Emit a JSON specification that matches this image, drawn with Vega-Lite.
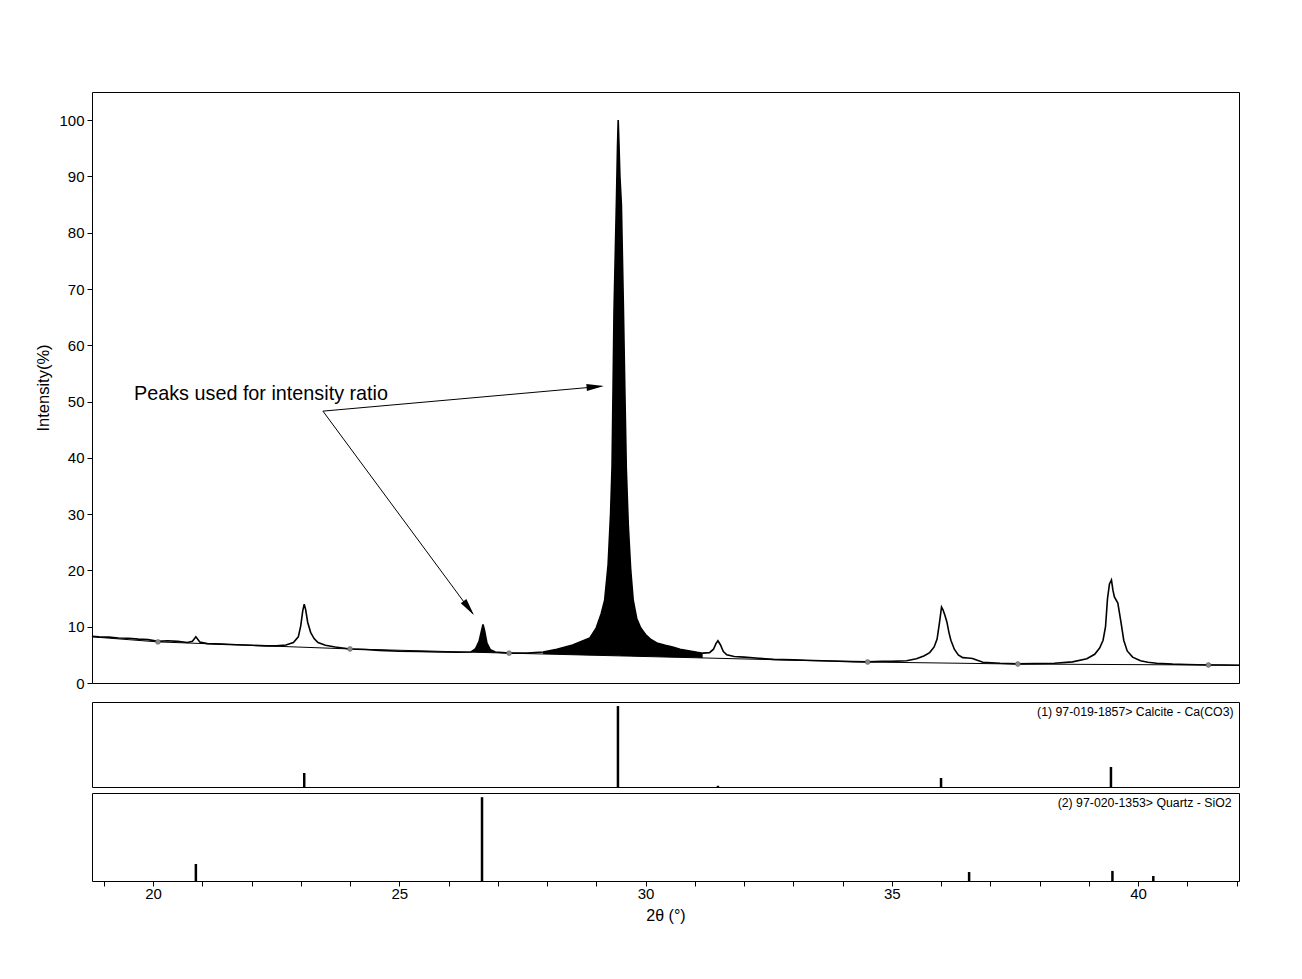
{
  "$schema": "https://vega.github.io/schema/vega-lite/v6.json",
  "padding": {"left": 35, "top": 91, "right": 5, "bottom": 5},
  "background": "white",
  "config": {
    "font": "Liberation Sans",
    "view": {"stroke": "black", "strokeWidth": 1},
    "axis": {"grid": false, "labelFont": "Liberation Sans", "titleFont": "Liberation Sans", "labelColor": "black", "titleColor": "black", "tickColor": "black", "domainColor": "black", "labelFontSize": 15, "titleFontSize": 15, "titleFontWeight": "normal", "tickSize": 5}
  },
  "datasets": {
    "curve": [
      {"x": 18.76, "y": 8.3}, {"x": 18.9, "y": 8.2}, {"x": 19.1, "y": 8.15}, {"x": 19.3, "y": 8.0}, {"x": 19.5, "y": 7.95}, {"x": 19.7, "y": 7.8}, {"x": 19.9, "y": 7.7},
      {"x": 20.1, "y": 7.4}, {"x": 20.3, "y": 7.5}, {"x": 20.5, "y": 7.4}, {"x": 20.7, "y": 7.2}, {"x": 20.8, "y": 7.4}, {"x": 20.87, "y": 8.2}, {"x": 20.95, "y": 7.3},
      {"x": 21.1, "y": 7.0}, {"x": 21.4, "y": 6.9}, {"x": 21.7, "y": 6.8}, {"x": 22.0, "y": 6.7}, {"x": 22.3, "y": 6.6}, {"x": 22.5, "y": 6.6}, {"x": 22.7, "y": 6.75},
      {"x": 22.85, "y": 7.2}, {"x": 22.95, "y": 8.2}, {"x": 23.0, "y": 10.2}, {"x": 23.04, "y": 12.8}, {"x": 23.07, "y": 14.0}, {"x": 23.1, "y": 13.0}, {"x": 23.14, "y": 10.8},
      {"x": 23.2, "y": 9.0}, {"x": 23.27, "y": 7.9}, {"x": 23.35, "y": 7.2}, {"x": 23.5, "y": 6.7}, {"x": 23.7, "y": 6.4}, {"x": 24.0, "y": 6.05}, {"x": 24.3, "y": 5.95},
      {"x": 24.6, "y": 5.8}, {"x": 25.0, "y": 5.65}, {"x": 25.4, "y": 5.6}, {"x": 25.8, "y": 5.5}, {"x": 26.2, "y": 5.45},
      {"x": 26.45, "y": 5.5}, {"x": 26.55, "y": 6.1}, {"x": 26.62, "y": 7.4}, {"x": 26.67, "y": 9.3}, {"x": 26.7, "y": 10.4}, {"x": 26.73, "y": 9.4}, {"x": 26.78, "y": 7.1}, {"x": 26.85, "y": 5.9}, {"x": 26.95, "y": 5.5},
      {"x": 27.23, "y": 5.3}, {"x": 27.6, "y": 5.3}, {"x": 27.92, "y": 5.5}, {"x": 28.2, "y": 6.0}, {"x": 28.52, "y": 6.75}, {"x": 28.87, "y": 8.0}, {"x": 29.0, "y": 9.8},
      {"x": 29.1, "y": 12.3}, {"x": 29.17, "y": 14.7}, {"x": 29.24, "y": 21}, {"x": 29.29, "y": 30}, {"x": 29.32, "y": 38.4}, {"x": 29.34, "y": 52}, {"x": 29.36, "y": 66},
      {"x": 29.39, "y": 78}, {"x": 29.41, "y": 86}, {"x": 29.43, "y": 95}, {"x": 29.445, "y": 100}, {"x": 29.46, "y": 96}, {"x": 29.48, "y": 90}, {"x": 29.51, "y": 85},
      {"x": 29.53, "y": 76}, {"x": 29.55, "y": 67}, {"x": 29.58, "y": 52}, {"x": 29.61, "y": 38}, {"x": 29.65, "y": 28}, {"x": 29.7, "y": 20}, {"x": 29.75, "y": 14.7},
      {"x": 29.82, "y": 11.5}, {"x": 29.9, "y": 9.8}, {"x": 30.0, "y": 8.6}, {"x": 30.1, "y": 7.8}, {"x": 30.23, "y": 7.1}, {"x": 30.4, "y": 6.7}, {"x": 30.55, "y": 6.4},
      {"x": 30.7, "y": 6.0}, {"x": 30.9, "y": 5.7}, {"x": 31.05, "y": 5.45}, {"x": 31.16, "y": 5.3}, {"x": 31.3, "y": 5.4}, {"x": 31.38, "y": 6.0}, {"x": 31.43, "y": 7.0},
      {"x": 31.47, "y": 7.5}, {"x": 31.52, "y": 6.8}, {"x": 31.58, "y": 5.6}, {"x": 31.65, "y": 5.0}, {"x": 31.8, "y": 4.7}, {"x": 32.0, "y": 4.6}, {"x": 32.3, "y": 4.4},
      {"x": 32.6, "y": 4.2}, {"x": 33.0, "y": 4.1}, {"x": 33.4, "y": 4.0}, {"x": 33.8, "y": 3.9}, {"x": 34.2, "y": 3.8}, {"x": 34.51, "y": 3.75}, {"x": 34.8, "y": 3.85},
      {"x": 35.0, "y": 3.85}, {"x": 35.3, "y": 3.95}, {"x": 35.5, "y": 4.3}, {"x": 35.65, "y": 4.8}, {"x": 35.77, "y": 5.4}, {"x": 35.86, "y": 6.4}, {"x": 35.92, "y": 7.8},
      {"x": 35.97, "y": 10.8}, {"x": 36.01, "y": 13.5}, {"x": 36.04, "y": 13.0}, {"x": 36.08, "y": 12.0}, {"x": 36.12, "y": 10.8}, {"x": 36.16, "y": 9.0}, {"x": 36.2, "y": 7.6},
      {"x": 36.27, "y": 6.0}, {"x": 36.35, "y": 5.0}, {"x": 36.44, "y": 4.5}, {"x": 36.55, "y": 4.45}, {"x": 36.64, "y": 4.35}, {"x": 36.75, "y": 4.0}, {"x": 36.85, "y": 3.7},
      {"x": 37.2, "y": 3.5}, {"x": 37.56, "y": 3.4}, {"x": 37.9, "y": 3.45}, {"x": 38.3, "y": 3.5}, {"x": 38.67, "y": 3.75}, {"x": 38.96, "y": 4.3}, {"x": 39.12, "y": 5.1},
      {"x": 39.22, "y": 6.2}, {"x": 39.29, "y": 7.6}, {"x": 39.34, "y": 10}, {"x": 39.38, "y": 15}, {"x": 39.42, "y": 17.6}, {"x": 39.46, "y": 18.3}, {"x": 39.49, "y": 16.5}, {"x": 39.52, "y": 15.3},
      {"x": 39.59, "y": 14.2}, {"x": 39.65, "y": 11}, {"x": 39.71, "y": 7.6}, {"x": 39.78, "y": 5.7}, {"x": 39.89, "y": 4.6}, {"x": 40.05, "y": 3.95}, {"x": 40.2, "y": 3.7}, {"x": 40.38, "y": 3.5}, {"x": 40.7, "y": 3.35},
      {"x": 41.0, "y": 3.3}, {"x": 41.43, "y": 3.2}, {"x": 41.7, "y": 3.2}, {"x": 42.05, "y": 3.15}
    ],
    "base": [
      {"x": 18.76, "y": 8.2}, {"x": 20.1, "y": 7.3}, {"x": 24.0, "y": 6.05}, {"x": 27.23, "y": 5.3}, {"x": 34.51, "y": 3.73}, {"x": 37.56, "y": 3.37}, {"x": 41.43, "y": 3.2}, {"x": 42.05, "y": 3.15}
    ],
    "fill": [
      {"g": "q", "x": 26.45, "top": 5.5, "bot": 5.48}, {"g": "q", "x": 26.55, "top": 6.1, "bot": 5.46}, {"g": "q", "x": 26.62, "top": 7.4, "bot": 5.44},
      {"g": "q", "x": 26.67, "top": 9.3, "bot": 5.43}, {"g": "q", "x": 26.7, "top": 10.4, "bot": 5.42}, {"g": "q", "x": 26.73, "top": 9.4, "bot": 5.42},
      {"g": "q", "x": 26.78, "top": 7.1, "bot": 5.41}, {"g": "q", "x": 26.85, "top": 5.9, "bot": 5.39}, {"g": "q", "x": 26.95, "top": 5.5, "bot": 5.37},
      {"g": "c", "x": 27.92, "top": 5.5, "bot": 5.15}, {"g": "c", "x": 28.2, "top": 6.0, "bot": 5.09}, {"g": "c", "x": 28.52, "top": 6.75, "bot": 5.02},
      {"g": "c", "x": 28.87, "top": 8.0, "bot": 4.95}, {"g": "c", "x": 29.0, "top": 9.8, "bot": 4.92}, {"g": "c", "x": 29.1, "top": 12.3, "bot": 4.9},
      {"g": "c", "x": 29.17, "top": 14.7, "bot": 4.89}, {"g": "c", "x": 29.24, "top": 21, "bot": 4.87}, {"g": "c", "x": 29.29, "top": 30, "bot": 4.86},
      {"g": "c", "x": 29.32, "top": 38.4, "bot": 4.85}, {"g": "c", "x": 29.34, "top": 52, "bot": 4.85}, {"g": "c", "x": 29.36, "top": 66, "bot": 4.84},
      {"g": "c", "x": 29.39, "top": 78, "bot": 4.84}, {"g": "c", "x": 29.41, "top": 86, "bot": 4.83}, {"g": "c", "x": 29.43, "top": 95, "bot": 4.83},
      {"g": "c", "x": 29.445, "top": 100, "bot": 4.83}, {"g": "c", "x": 29.46, "top": 96, "bot": 4.82}, {"g": "c", "x": 29.48, "top": 90, "bot": 4.82},
      {"g": "c", "x": 29.51, "top": 85, "bot": 4.81}, {"g": "c", "x": 29.53, "top": 76, "bot": 4.81}, {"g": "c", "x": 29.55, "top": 67, "bot": 4.81},
      {"g": "c", "x": 29.58, "top": 52, "bot": 4.8}, {"g": "c", "x": 29.61, "top": 38, "bot": 4.79}, {"g": "c", "x": 29.65, "top": 28, "bot": 4.79},
      {"g": "c", "x": 29.7, "top": 20, "bot": 4.78}, {"g": "c", "x": 29.75, "top": 14.7, "bot": 4.77}, {"g": "c", "x": 29.82, "top": 11.5, "bot": 4.75},
      {"g": "c", "x": 29.9, "top": 9.8, "bot": 4.73}, {"g": "c", "x": 30.0, "top": 8.6, "bot": 4.71}, {"g": "c", "x": 30.1, "top": 7.8, "bot": 4.69},
      {"g": "c", "x": 30.23, "top": 7.1, "bot": 4.66}, {"g": "c", "x": 30.4, "top": 6.7, "bot": 4.62}, {"g": "c", "x": 30.55, "top": 6.4, "bot": 4.59},
      {"g": "c", "x": 30.7, "top": 6.0, "bot": 4.56}, {"g": "c", "x": 30.9, "top": 5.7, "bot": 4.52}, {"g": "c", "x": 31.05, "top": 5.45, "bot": 4.48},
      {"g": "c", "x": 31.16, "top": 5.3, "bot": 4.46}
    ],
    "dots": [
      {"x": 20.1, "y": 7.3}, {"x": 24.0, "y": 6.05}, {"x": 27.23, "y": 5.3}, {"x": 34.51, "y": 3.73}, {"x": 37.56, "y": 3.37}, {"x": 41.43, "y": 3.2}
    ],
    "arrows": [
      {"x": 23.45, "y": 48.3, "x2": 29.1, "y2": 52.7},
      {"x": 23.45, "y": 48.3, "x2": 26.49, "y2": 12.3}
    ],
    "heads": [
      {"x": 29.154, "y": 52.76, "angle": -5},
      {"x": 26.515, "y": 12.08, "angle": 53.5}
    ],
    "note": [{"x": 19.614, "y": 50.28, "label": "Peaks used for intensity ratio"}],
    "calcite": [
      {"x": 23.07, "h": 17.3}, {"x": 29.44, "h": 100}, {"x": 31.47, "h": 1.5}, {"x": 36.0, "h": 11.1}, {"x": 39.45, "h": 24.7}
    ],
    "quartz": [
      {"x": 20.87, "h": 20.3}, {"x": 26.68, "h": 100}, {"x": 36.57, "h": 10.7}, {"x": 39.48, "h": 12}, {"x": 40.31, "h": 6}
    ],
    "lab1": [{"x": 41.94, "y": 88, "label": "(1) 97-019-1857> Calcite - Ca(CO3)"}],
    "lab2": [{"x": 41.9, "y": 88.3, "label": "(2) 97-020-1353> Quartz - SiO2"}]
  },
  "vconcat": [
    {
      "width": 1147,
      "height": 591,
      "layer": [
        {
          "data": {"name": "fill"},
          "mark": {"type": "area", "color": "black", "interpolate": "linear"},
          "encoding": {
            "x": {"field": "x", "type": "quantitative", "scale": {"domain": [18.761, 42.05], "nice": false}, "axis": null},
            "y": {"field": "top", "type": "quantitative", "scale": {"domain": [0, 105], "nice": false}, "axis": {"values": [0, 10, 20, 30, 40, 50, 60, 70, 80, 90, 100], "title": "Intensity(%)", "titleFontSize": 16.5, "labelPadding": 3, "titlePadding": 7, "domain": false}},
            "y2": {"field": "bot"},
            "detail": {"field": "g"}
          }
        },
        {
          "data": {"name": "base"},
          "mark": {"type": "line", "color": "black", "strokeWidth": 1},
          "encoding": {
            "x": {"field": "x", "type": "quantitative"},
            "y": {"field": "y", "type": "quantitative"}
          }
        },
        {
          "data": {"name": "curve"},
          "mark": {"type": "line", "color": "black", "strokeWidth": 1.6},
          "encoding": {
            "x": {"field": "x", "type": "quantitative"},
            "y": {"field": "y", "type": "quantitative"}
          }
        },
        {
          "data": {"name": "dots"},
          "mark": {"type": "point", "filled": true, "color": "#8a8a8a", "size": 24, "opacity": 1, "stroke": "#555555", "strokeWidth": 0.5},
          "encoding": {
            "x": {"field": "x", "type": "quantitative"},
            "y": {"field": "y", "type": "quantitative"}
          }
        },
        {
          "data": {"name": "arrows"},
          "mark": {"type": "rule", "color": "black", "strokeWidth": 1},
          "encoding": {
            "x": {"field": "x", "type": "quantitative"},
            "y": {"field": "y", "type": "quantitative"},
            "x2": {"field": "x2"},
            "y2": {"field": "y2"}
          }
        },
        {
          "data": {"name": "heads"},
          "mark": {"type": "point", "shape": "M0,0L-2,-0.4L-2,0.4Z", "filled": true, "color": "black", "opacity": 1, "size": 300},
          "encoding": {
            "x": {"field": "x", "type": "quantitative"},
            "y": {"field": "y", "type": "quantitative"},
            "angle": {"field": "angle", "type": "quantitative", "scale": null}
          }
        },
        {
          "data": {"name": "note"},
          "mark": {"type": "text", "align": "left", "baseline": "alphabetic", "fontSize": 19.8, "font": "Liberation Sans", "color": "black"},
          "encoding": {
            "x": {"field": "x", "type": "quantitative"},
            "y": {"field": "y", "type": "quantitative"},
            "text": {"field": "label"}
          }
        }
      ]
    },
    {
      "spacing": 3,
      "vconcat": [
        {
          "width": 1147,
          "height": 85,
          "layer": [
            {
              "data": {"name": "calcite"},
              "mark": {"type": "rule", "color": "black", "strokeWidth": 2.5},
              "encoding": {
                "x": {"field": "x", "type": "quantitative", "scale": {"domain": [18.761, 42.05], "nice": false}, "axis": null},
                "y": {"field": "h", "type": "quantitative", "scale": {"domain": [0, 105], "nice": false}, "axis": null},
                "y2": {"datum": 0}
              }
            },
            {
              "data": {"name": "lab1"},
              "mark": {"type": "text", "align": "right", "baseline": "alphabetic", "fontSize": 12.3, "font": "Liberation Sans", "color": "black"},
              "encoding": {
                "x": {"field": "x", "type": "quantitative"},
                "y": {"field": "y", "type": "quantitative"},
                "text": {"field": "label"}
              }
            }
          ]
        },
        {
          "width": 1147,
          "height": 88,
          "layer": [
            {
              "data": {"name": "quartz"},
              "mark": {"type": "rule", "color": "black", "strokeWidth": 2.5},
              "encoding": {
                "x": {"field": "x", "type": "quantitative", "scale": {"domain": [18.761, 42.05], "nice": false},
                  "axis": {"values": [19, 20, 21, 22, 23, 24, 25, 26, 27, 28, 29, 30, 31, 32, 33, 34, 35, 36, 37, 38, 39, 40, 41, 42], "labelExpr": "datum.value % 5 === 0 ? datum.label : ''", "format": "d", "title": "2θ (°)", "titleFontSize": 16, "labelPadding": 0, "titlePadding": 6, "domain": false}},
                "y": {"field": "h", "type": "quantitative", "scale": {"domain": [0, 105], "nice": false}, "axis": null},
                "y2": {"datum": 0}
              }
            },
            {
              "data": {"name": "lab2"},
              "mark": {"type": "text", "align": "right", "baseline": "alphabetic", "fontSize": 12.3, "font": "Liberation Sans", "color": "black"},
              "encoding": {
                "x": {"field": "x", "type": "quantitative"},
                "y": {"field": "y", "type": "quantitative"},
                "text": {"field": "label"}
              }
            }
          ]
        }
      ]
    }
  ],
  "spacing": 9
}
